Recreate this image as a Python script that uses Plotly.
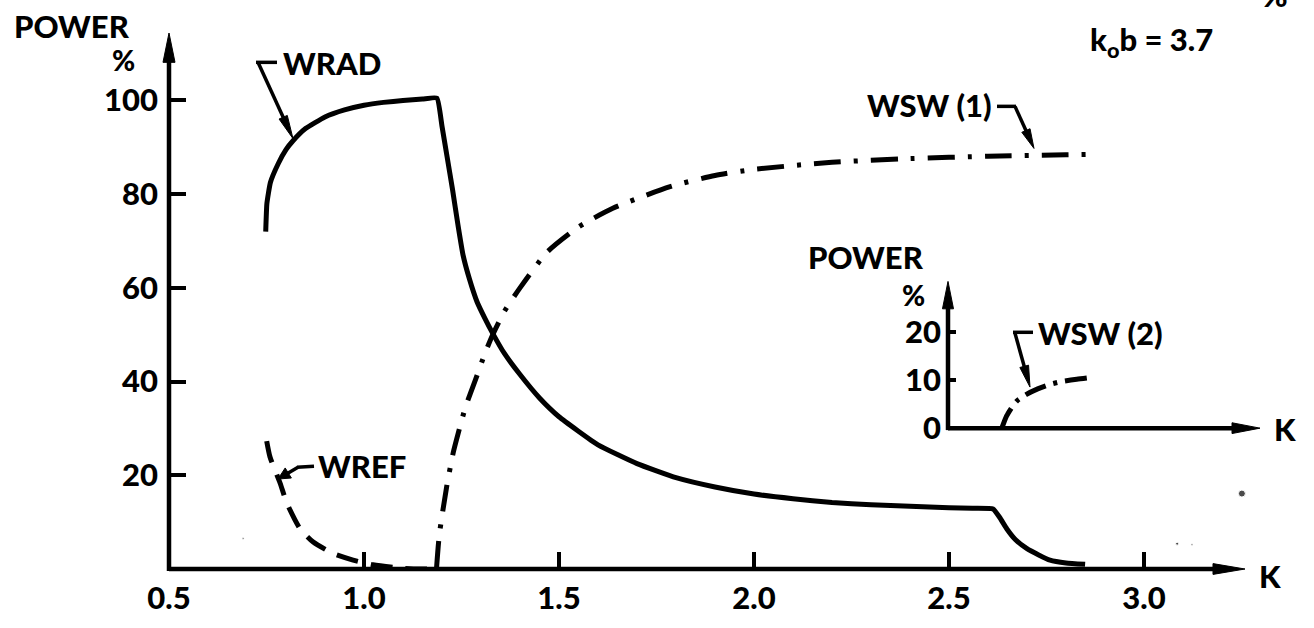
import math
import plotly.graph_objects as go

# ---------------- data ----------------
wrad_k = [0.748, 0.751, 0.76, 0.78, 0.80, 0.818, 0.85, 0.90, 0.95, 1.00, 1.05, 1.10, 1.15, 1.187,
          1.20, 1.213, 1.227, 1.241, 1.254, 1.27, 1.29, 1.31, 1.33, 1.36, 1.40, 1.45, 1.50,
          1.60, 1.70, 1.80, 1.90, 2.00, 2.10, 2.20, 2.30, 2.40, 2.50, 2.56, 2.613,
          2.63, 2.648, 2.67, 2.699, 2.73, 2.759, 2.80, 2.849]
wrad_p = [72, 78, 82.5, 86.5, 89.5, 91.4, 94, 96.5, 98, 99, 99.6, 100, 100.3, 100.5,
          94.5, 88, 81, 73.4, 67, 62, 57, 53.5, 50.3, 46, 41.5, 36.5, 32.5,
          26.5, 22.5, 19.5, 17.5, 16, 15, 14.2, 13.7, 13.4, 13.1, 12.95, 12.8,
          11, 8.6, 6.3, 4.4, 3.0, 1.9, 1.3, 1.0]

wref_k = [0.7505, 0.759, 0.785, 0.802, 0.836, 0.869, 0.921, 0.972, 1.023, 1.092, 1.144, 1.18]
wref_p = [27.3, 23.9, 18.3, 14.1, 8.6, 5.8, 3.3, 1.9, 0.9, 0.2, 0.0, 0.0]

wsw1_k = [1.186, 1.193, 1.212, 1.229, 1.242, 1.26, 1.285, 1.31, 1.33, 1.36, 1.40, 1.469,
          1.55, 1.638, 1.785, 1.90, 2.00, 2.20, 2.40, 2.60, 2.80, 2.87]
wsw1_p = [0.2, 7.2, 17.6, 24.9, 29.1, 34.5, 40.2, 46, 50, 55, 60, 67.6,
          73, 77, 81.6, 84, 85.3, 86.8, 87.6, 88.1, 88.4, 88.5]

# inset (second surface-wave mode); abscissa in K units measured from the inset origin
wsw2_k = [0.138, 0.15, 0.165, 0.177, 0.20, 0.23, 0.26, 0.29, 0.33, 0.37]
wsw2_p = [0, 2.5, 4.5, 5.7, 7.0, 8.2, 9.1, 9.7, 10.2, 10.6]

# specks of the scanned original
speck_k = [3.251, 3.085, 3.123, 0.331, 0.37, 0.41, 0.69]
speck_p = [16.1, 5.4, 5.2, 6.9, 6.9, 6.9, 6.5]
speck_s = [7, 3, 2, 2, 3, 2, 2]

x_ticks = [0.5, 1.0, 1.5, 2.0, 2.5, 3.0]
x_ticktext = ["0.5", "1.0", "1.5", "2.0", "2.5", "3.0"]
y_ticks = [20, 40, 60, 80, 100]
inset_y_ticks = [0, 10, 20]

# ---------------- layout geometry ----------------
FW, FH = 1314, 628
L, R, T, B = 169, 50, 33, 47
W = FW - L - R
H = FH - T - B
PX_PER_K = 390.0
PX_PER_P = 4.79
X_MAX = 0.5 + W / PX_PER_K
Y_MAX = H / PX_PER_P
AX_Y = FH - B           # pixel row of the main K axis
X_TIP_PX = 1245         # main K-axis arrow tip
Y_TIP_PX = 33           # main power-axis arrow tip

IX0, IX1, IY0, IY1 = 948, 1260, 437, 287   # inset axes box (pixels)
INSET_PX_PER_P = 4.9
inset_xmax = (IX1 - IX0) / PX_PER_K
inset_ymax = (IY0 - IY1) / INSET_PX_PER_P


def px(x):
    return (x - L) / W


def py(y):
    return (FH - B - y) / H


FONT = dict(family="Lato, 'Liberation Sans', Arial, sans-serif", size=31, color="black", weight=900)
LW = 5

fig = go.Figure()
fig.add_trace(go.Scatter(x=wrad_k, y=wrad_p, mode="lines",
                         line=dict(color="black", width=LW, shape="spline", smoothing=0.4),
                         cliponaxis=False, showlegend=False))
fig.add_trace(go.Scatter(x=wref_k, y=wref_p, mode="lines",
                         line=dict(color="black", width=LW, dash="22px,13px", shape="spline", smoothing=0.6),
                         cliponaxis=False, showlegend=False))
fig.add_trace(go.Scatter(x=wsw1_k, y=wsw1_p, mode="lines",
                         line=dict(color="black", width=LW, dash="27px,13px,4px,13px", shape="spline", smoothing=0.6),
                         cliponaxis=False, showlegend=False))
fig.add_trace(go.Scatter(x=wsw2_k, y=wsw2_p, mode="lines", xaxis="x2", yaxis="y2",
                         line=dict(color="black", width=LW, dash="22px,8px,4px,8px", shape="spline", smoothing=0.6),
                         cliponaxis=False, showlegend=False))
fig.add_trace(go.Scatter(x=speck_k, y=speck_p, mode="markers", marker=dict(color="black", size=speck_s),
                         cliponaxis=False, showlegend=False))

fig.update_layout(
    width=FW, height=FH,
    margin=dict(l=L, r=R, t=T, b=B, pad=0),
    paper_bgcolor="white", plot_bgcolor="white",
    showlegend=False,
    xaxis=dict(range=[0.5, X_MAX], showline=False, showgrid=False, zeroline=False,
               tickvals=x_ticks, ticktext=x_ticktext, ticks="inside", ticklen=17, tickwidth=4,
               tickcolor="black", tickfont=FONT, ticklabelstandoff=8),
    yaxis=dict(range=[0, Y_MAX], showline=False, showgrid=False, zeroline=False,
               tickvals=y_ticks, ticks="inside", ticklen=17, tickwidth=4,
               tickcolor="black", tickfont=FONT, ticklabelstandoff=10),
    xaxis2=dict(domain=[px(IX0), px(IX1)], anchor="y2", range=[0, inset_xmax], showline=False,
                showgrid=False, zeroline=False, showticklabels=False, ticks=""),
    yaxis2=dict(domain=[py(IY0), py(IY1)], anchor="x2", range=[0, inset_ymax], showline=False,
                showgrid=False, zeroline=False, tickvals=inset_y_ticks, ticks="inside", ticklen=8,
                tickwidth=4, tickcolor="black", tickfont=FONT, ticklabelstandoff=6),
)

shapes = []
ann = []


def seg(x0, y0, x1, y1, w=3.5):
    shapes.append(dict(type="line", xref="paper", yref="paper", x0=px(x0), y0=py(y0), x1=px(x1), y1=py(y1),
                       line=dict(color="black", width=w)))


def arrow(x0, y0, x1, y1, head_len=26, head_w=11, w=3.5):
    """Line from pixel (x0,y0) to (x1,y1) ending in a filled arrowhead."""
    d = math.hypot(x1 - x0, y1 - y0)
    ux, uy = (x1 - x0) / d, (y1 - y0) / d
    nx, ny = -uy, ux
    bx, by = x1 - ux * head_len, y1 - uy * head_len
    seg(x0, y0, bx + ux * 2, by + uy * 2, w)
    pts = [(x1, y1), (bx + nx * head_w / 2, by + ny * head_w / 2), (bx - nx * head_w / 2, by - ny * head_w / 2)]
    path = "M " + " L ".join(f"{px(a):.5f},{py(b):.5f}" for a, b in pts) + " Z"
    shapes.append(dict(type="path", xref="paper", yref="paper", path=path,
                       fillcolor="black", line=dict(color="black", width=1)))


# axes with arrowheads
arrow(L, AX_Y, X_TIP_PX, AX_Y, head_len=32, head_w=11, w=4.5)
arrow(L, AX_Y + 2, L, Y_TIP_PX, head_len=30, head_w=12, w=4.5)
arrow(IX0, IY0, IX1, IY0, head_len=28, head_w=11, w=4.5)
arrow(IX0, IY0 + 2, IX0, IY1, head_len=28, head_w=11, w=4.5)

# label leaders
seg(256, 63, 277, 63)
arrow(258, 63, 293, 141, head_len=24, head_w=9)
seg(297, 477, 314, 476)
arrow(298, 477, 278, 489, head_len=12, head_w=12)
seg(997, 108, 1016, 108)
arrow(1015, 108, 1034, 151, head_len=20, head_w=9)
seg(1013, 339, 1033, 339)
arrow(1015, 340, 1030, 395, head_len=22, head_w=9)


def label(text, x, y, xanchor="left", size=31):
    f = dict(FONT)
    f["size"] = size
    ann.append(dict(x=px(x), y=py(y), xref="paper", yref="paper", text=text, showarrow=False,
                    xanchor=xanchor, yanchor="middle", font=f))


label("POWER", 72, 26, "center")
label("%", 123, 61, "center", 28)
label("WRAD", 281, 64)
label("WREF", 316, 476)
label("WSW (1)", 994, 107, "right")
label("k<sub>o</sub>b = 3.7", 1088, 42)
label("POWER", 926, 262, "right")
label("%", 913, 301, "center", 28)
label("WSW (2)", 1036, 340)
label("K", 1270, 588, "center")
label("K", 1285, 438, "center")
label("%", 1275, -6, "center")

fig.update_layout(annotations=ann, shapes=shapes)
fig.write_html("out.html")
